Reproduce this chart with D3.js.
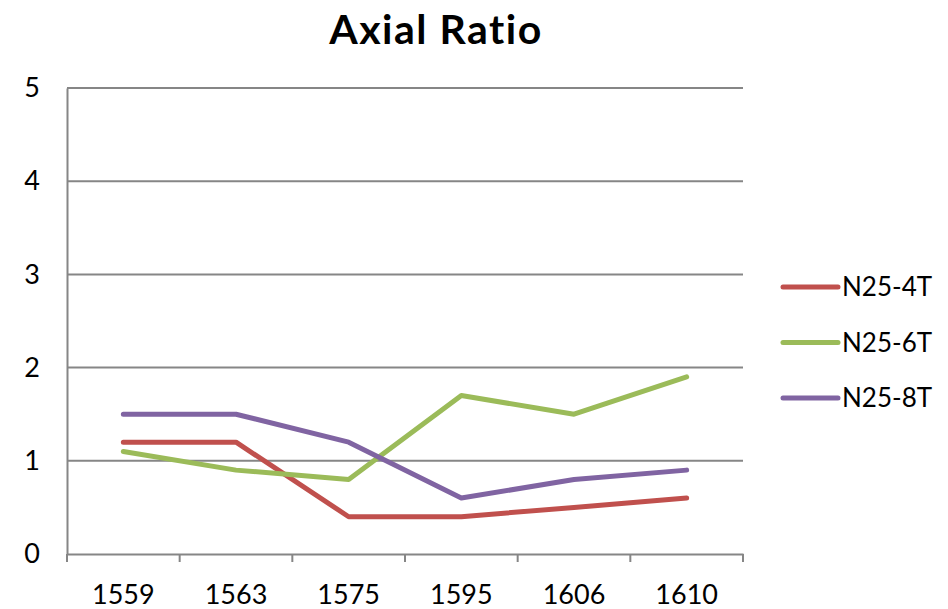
<!DOCTYPE html>
<html>
<head>
<meta charset="utf-8">
<script src="https://cdn.jsdelivr.net/npm/d3@7"></script>
<style>
  html, body { margin: 0; padding: 0; background: #fff; }
  svg { display: block; }
</style>
</head>
<body>
<svg id="chart" width="948" height="609"></svg>
<script>
// Frequencies (category axis) and axial ratio per antenna variant
const categories = ["1559", "1563", "1575", "1595", "1606", "1610"];
const seriesNames = ["N25-4T", "N25-6T", "N25-8T"];
const seriesColors = ["#C0504D", "#9BBB59", "#8064A2"];
const valuesN25_4T = [1.2, 1.2, 0.4, 0.4, 0.5, 0.6];
const valuesN25_6T = [1.1, 0.9, 0.8, 1.7, 1.5, 1.9];
const valuesN25_8T = [1.5, 1.5, 1.2, 0.6, 0.8, 0.9];
const yTicks = [0, 1, 2, 3, 4, 5];

const series = [valuesN25_4T, valuesN25_6T, valuesN25_8T].map((v, i) => ({
  name: seriesNames[i], color: seriesColors[i], values: v
}));

const svg = d3.select("#chart");
const plot = { left: 67, right: 743, top: 88, bottom: 554 };

const x = d3.scaleBand().domain(categories).range([plot.left, plot.right]).padding(0);
const y = d3.scaleLinear().domain([0, 5]).range([plot.bottom, plot.top]);

const labelFont = "Lato, 'Open Sans', sans-serif";

// Title
svg.append("text")
  .attr("x", 436).attr("y", 44)
  .attr("text-anchor", "middle")
  .attr("font-family", labelFont)
  .attr("font-weight", "bold")
  .attr("font-size", 41)
  .attr("letter-spacing", 1.5)
  .attr("fill", "#000")
  .text("Axial Ratio");

// Horizontal gridlines
svg.append("g")
  .selectAll("line")
  .data(yTicks.filter(d => d > 0))
  .join("line")
  .attr("x1", plot.left).attr("x2", plot.right)
  .attr("y1", d => y(d)).attr("y2", d => y(d))
  .attr("stroke", "#868686").attr("stroke-width", 2);

// Y axis
const yAxis = svg.append("g")
  .attr("transform", `translate(${plot.left},0)`)
  .call(d3.axisLeft(y).tickValues(yTicks).tickFormat(d3.format("d")).tickSize(0).tickPadding(27));
yAxis.select(".domain").attr("stroke", "#868686").attr("stroke-width", 2);
yAxis.selectAll("text")
  .attr("font-family", labelFont).attr("font-size", 27).attr("fill", "#000");

// X axis with ticks at category boundaries
const xAxis = svg.append("g")
  .attr("transform", `translate(0,${plot.bottom})`)
  .call(d3.axisBottom(x).tickSize(0).tickPadding(31));
xAxis.select(".domain").attr("stroke", "#868686").attr("stroke-width", 2);
xAxis.selectAll("text")
  .attr("font-family", labelFont).attr("font-size", 27).attr("fill", "#000");
const boundaries = categories.map(c => x(c)).concat([plot.right]);
xAxis.append("g")
  .selectAll("line")
  .data(boundaries)
  .join("line")
  .attr("x1", d => d).attr("x2", d => d)
  .attr("y1", 0).attr("y2", 8)
  .attr("stroke", "#868686").attr("stroke-width", 2);

// Series lines
const line = d3.line()
  .x((d, i) => x(categories[i]) + x.bandwidth() / 2)
  .y(d => y(d));

svg.append("g")
  .selectAll("path")
  .data(series)
  .join("path")
  .attr("d", d => line(d.values))
  .attr("fill", "none")
  .attr("stroke", d => d.color)
  .attr("stroke-width", 5)
  .attr("stroke-linecap", "round")
  .attr("stroke-linejoin", "round");

// Legend
const legend = svg.append("g")
  .selectAll("g")
  .data(series)
  .join("g")
  .attr("transform", (d, i) => `translate(783,${287 + i * 55.5})`);
legend.append("line")
  .attr("x1", 0).attr("x2", 55)
  .attr("y1", 0).attr("y2", 0)
  .attr("stroke", d => d.color)
  .attr("stroke-width", 5)
  .attr("stroke-linecap", "round");
legend.append("text")
  .attr("x", 59).attr("y", 0)
  .attr("dy", "0.35em")
  .attr("font-family", labelFont)
  .attr("font-size", 26)
  .attr("fill", "#000")
  .text(d => d.name);
</script>
</body>
</html>
